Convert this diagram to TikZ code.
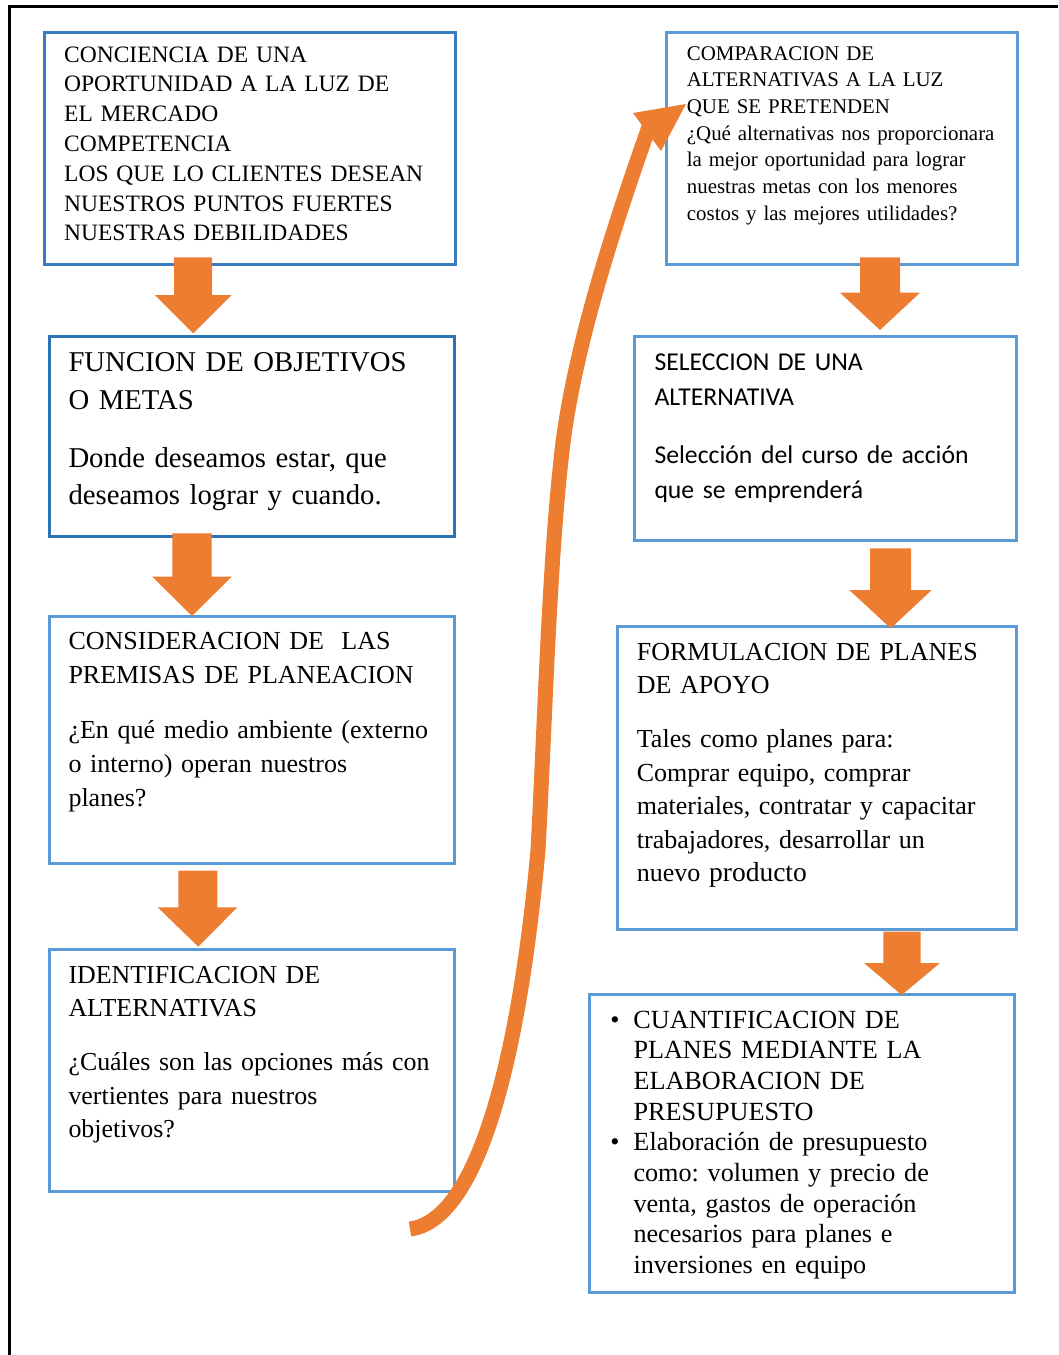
\documentclass[tikz,border=0pt]{standalone}
\usepackage{fontspec}
\setmainfont{Liberation Serif}
\newfontfamily\carlitofont{Carlito}
\definecolor{boxblue}{HTML}{5B9BD5}
\definecolor{boxblueA}{HTML}{3A7CC4}
\definecolor{boxblueB}{HTML}{2E74B5}
\definecolor{arroworange}{HTML}{ED7D31}
\newcommand{\blockdown}[8]{%
  \fill[arroworange] (#1,#3) -- (#2,#3) -- (#2,#4) -- (#6,#4) -- (#7,#8) -- (#5,#4) -- (#1,#4) -- cycle;}
\frenchspacing
\begin{document}
\begin{tikzpicture}[x=1pt,y=-1pt,
  box/.style={draw=boxblue, line width=2.8pt, fill=white, inner sep=0pt, anchor=north west, rectangle},
  txt/.style={anchor=base west, inner sep=0pt, text width=430pt, align=left},
  bandarrow/.style={draw=arroworange, line width=15pt, line cap=butt}]
\useasboundingbox (0,0) rectangle (1058,1355);
% outer frame
\coordinate (fr1) at (1058,6.7);
\coordinate (fr2) at (9.3,6.7);
\coordinate (fr3) at (9.3,1355);
\draw[black, line width=2.5pt] (fr1) -- (fr2) -- (fr3);
% boxes
\node[box, draw=boxblueA, minimum width=411.3pt, minimum height=232pt] (b1) at (42.7,30.7) {};
\node[box, draw=boxblueB, minimum width=405pt, minimum height=200pt] (b2) at (48.3,335) {};
\node[box, minimum width=405pt, minimum height=247pt] (b3) at (48.3,615) {};
\node[box, minimum width=405pt, minimum height=241.7pt] (b4) at (48.3,948.3) {};
\node[box, minimum width=350.4pt, minimum height=232.6pt] (b5) at (665.3,30.7) {};
\node[box, minimum width=381.7pt, minimum height=204pt] (b6) at (633.3,335) {};
\node[box, minimum width=399.3pt, minimum height=303.3pt] (b7) at (615.7,625) {};
\node[box, minimum width=425pt, minimum height=297.4pt] (b8) at (588.3,993.3) {};
% texts
\node[txt, font={\fontsize{23.5}{29.8}\selectfont}] (t1) at (64,62)
 {CONCIENCIA DE UNA\\ OPORTUNIDAD A LA LUZ DE\\ EL MERCADO\\ COMPETENCIA\\ LOS QUE LO CLIENTES DESEAN\\ NUESTROS PUNTOS FUERTES\\ NUESTRAS DEBILIDADES};
\node[txt, font={\fontsize{28.7}{37.5}\selectfont}] (t2) at (68.3,371.7)
 {FUNCION DE OBJETIVOS\\ O METAS\\[20.5pt] Donde deseamos estar, que\\ deseamos lograr y cuando.};
\node[txt, font={\fontsize{26}{34}\selectfont}] (t3) at (68.3,649)
 {CONSIDERACION DE~~LAS\\ PREMISAS DE PLANEACION\\[21pt] ¿En qué medio ambiente (externo\\ o interno) operan nuestros\\ planes?};
\node[txt, font={\fontsize{25.9}{33.5}\selectfont}] (t4) at (68.3,983)
 {IDENTIFICACION DE\\ ALTERNATIVAS\\[20.5pt] ¿Cuáles son las opciones más con\\ vertientes para nuestros\\ objetivos?};
\node[txt, font={\fontsize{20.9}{26.7}\selectfont}] (t5) at (686.7,60)
 {COMPARACION DE\\ ALTERNATIVAS A LA LUZ\\ QUE SE PRETENDEN\\ ¿Qué alternativas nos proporcionara\\ la mejor oportunidad para lograr\\ nuestras metas con los menores\\ costos y las mejores utilidades?};
\node[txt, font={\carlitofont\fontsize{25.7}{35}\selectfont}] (t6) at (654.3,370.7)
 {SELECCION DE UNA\\ ALTERNATIVA\\[22.3pt] Selección del curso de acción\\ que se emprenderá};
\node[txt, font={\fontsize{26}{33.4}\selectfont}] (t7) at (636.7,660)
 {FORMULACION DE PLANES\\ DE APOYO\\[21pt] Tales como planes para:\\ Comprar equipo, comprar\\ materiales, contratar y capacitar\\ trabajadores, desarrollar un\\ nuevo {\fontsize{27.5}{33.4}\selectfont producto}};
\node[txt, font={\fontsize{26.2}{30.7}\selectfont}] (t8) at (633.3,1028)
 {\makebox[0pt][r]{•\hspace{14pt}}CUANTIFICACION DE\\ PLANES MEDIANTE LA\\ ELABORACION DE\\ PRESUPUESTO\\ \makebox[0pt][r]{•\hspace{14pt}}Elaboración de presupuesto\\ como: volumen y precio de\\ venta, gastos de operación\\ necesarios para planes e\\ inversiones en equipo};
% block arrows
\blockdown{174}{212}{257.3}{295}{155}{231.7}{193.3}{333.3}
\blockdown{172.3}{211.7}{533.3}{576.7}{152.3}{231.7}{192}{616}
\blockdown{178.3}{217.3}{870.7}{907.3}{157.7}{237.3}{198.3}{946.7}
\blockdown{860}{900}{257.3}{292.7}{840}{920}{880}{330}
\blockdown{870}{911}{548.3}{590}{849.3}{931.7}{890.7}{628.3}
\blockdown{883.3}{920.7}{931.7}{963}{864}{940}{901.7}{995}
% curved arrow
\coordinate (cs) at (410,1229);
\coordinate (cm1) at (538,850);
\coordinate (cm2) at (561,460);
\coordinate (ce) at (650,124);
\coordinate (tipL) at (633,113);
\coordinate (tip) at (686,104);
\coordinate (tipR) at (661,151);
\draw[bandarrow] (cs) .. controls (480,1220) and (520,1050) .. (cm1)
  .. controls (545,720) and (549,570) .. (cm2)
  .. controls (572,350) and (618,215) .. (ce);
\fill[arroworange] (tipL) -- (tip) -- (tipR) -- cycle;
\end{tikzpicture}
\end{document}
